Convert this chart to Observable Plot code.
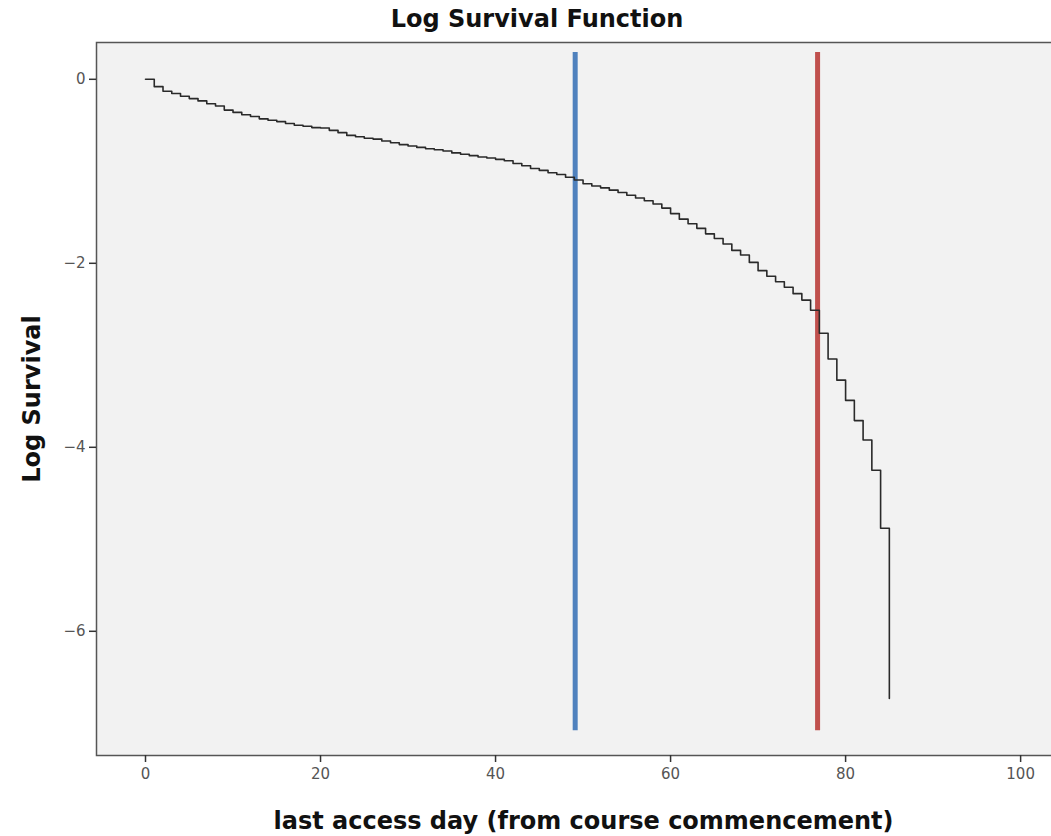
<!DOCTYPE html>
<html>
<head>
<meta charset="utf-8">
<script src="https://cdn.jsdelivr.net/npm/d3@7"></script>
<script src="https://cdn.jsdelivr.net/npm/@observablehq/plot@0.6"></script>
<style>
  html, body { margin: 0; padding: 0; background: #ffffff; overflow: hidden; }
  #wrap { position: relative; width: 1051px; height: 836px; overflow: hidden; }
  #title { position: absolute; left: 0; top: 5px; width: 1074px; text-align: center;
           font-family: "DejaVu Sans", sans-serif; font-weight: bold; font-size: 24px; color: #111; }
  #chart { position: absolute; left: 0; top: 0; width: 1070px; }
  #chart svg { max-width: none !important; width: 1070px; height: 836px; }
  g[aria-label="x-axis label"] text, g[aria-label="y-axis label"] text {
    font-weight: bold; font-size: 24px; fill: #111;
  }
</style>
</head>
<body>
<div id="wrap">
  <div id="chart"></div>
  <div id="title">Log Survival Function</div>
</div>
<script>
// Days since course commencement (step positions)
const days = [
  0, 1, 2, 3, 4, 5, 6, 7, 8, 9,
  10, 11, 12, 13, 14, 15, 16, 17, 18, 19,
  20, 21, 22, 23, 24, 25, 26, 27, 28, 29,
  30, 31, 32, 33, 34, 35, 36, 37, 38, 39,
  40, 41, 42, 43, 44, 45, 46, 47, 48, 49,
  50, 51, 52, 53, 54, 55, 56, 57, 58, 59,
  60, 61, 62, 63, 64, 65, 66, 67, 68, 69,
  70, 71, 72, 73, 74, 75, 76, 77, 78, 79,
  80, 81, 82, 83, 84, 85
];
// Log survival value at each day
const logSurvival = [
  0, -0.08, -0.13, -0.155, -0.185, -0.21, -0.235, -0.265, -0.29, -0.335,
  -0.36, -0.385, -0.405, -0.43, -0.445, -0.46, -0.48, -0.50, -0.51, -0.525,
  -0.53, -0.555, -0.58, -0.61, -0.625, -0.64, -0.65, -0.67, -0.69, -0.71,
  -0.725, -0.74, -0.755, -0.765, -0.78, -0.80, -0.815, -0.83, -0.845, -0.855,
  -0.87, -0.885, -0.915, -0.94, -0.97, -0.99, -1.015, -1.035, -1.065, -1.095,
  -1.135, -1.16, -1.18, -1.205, -1.23, -1.26, -1.29, -1.32, -1.355, -1.40,
  -1.46, -1.52, -1.57, -1.62, -1.68, -1.73, -1.79, -1.86, -1.91, -1.99,
  -2.08, -2.14, -2.20, -2.26, -2.33, -2.40, -2.51, -2.76, -3.04, -3.27,
  -3.49, -3.71, -3.92, -4.25, -4.88, -6.73
];
// Reference lines
const markerDays = [49.1, 76.8];
const markerColors = ["#4f81bd", "#c0504d"];
const markerTop = 0.29;
const markerBottom = -7.08;
// Axis ticks
const xTicks = [0, 20, 40, 60, 80, 100];
const yTicks = [0, -2, -4, -6];

const curve = days.map((d, i) => ({day: d, value: logSurvival[i]}));
const markers = markerDays.map((d, i) => ({day: d, color: markerColors[i], top: markerTop, bottom: markerBottom}));

const chart = Plot.plot({
  width: 1070,
  height: 836,
  marginLeft: 96,
  marginTop: 42,
  marginBottom: 81,
  marginRight: 0,
  style: {fontFamily: "DejaVu Sans, sans-serif", fontSize: "15px", background: "transparent", color: "#444"},
  x: {domain: [-5.6, 105.7]},
  y: {domain: [-7.35, 0.40]},
  marks: [
    Plot.frame({fill: "#f2f2f2", stroke: "none"}),
    Plot.ruleX(markers, {x: "day", y1: "top", y2: "bottom", stroke: "color", strokeWidth: 5}),
    Plot.line(curve, {x: "day", y: "value", curve: "step-after", stroke: "#2a2a2a", strokeWidth: 1.6}),
    Plot.frame({stroke: "#555", strokeWidth: 1.5}),
    Plot.axisX({ticks: xTicks, tickSize: 7, tickPadding: 6, stroke: "#333", strokeWidth: 1.5, fill: "#555",
                label: "last access day (from course commencement)", labelArrow: "none",
                labelAnchor: "center", labelOffset: 73}),
    Plot.axisY({ticks: yTicks, tickSize: 7, tickPadding: 4, stroke: "#333", strokeWidth: 1.5, fill: "#555",
                label: "Log Survival", labelArrow: "none", labelAnchor: "center", labelOffset: 74})
  ]
});
document.getElementById("chart").appendChild(chart);
</script>
</body>
</html>
